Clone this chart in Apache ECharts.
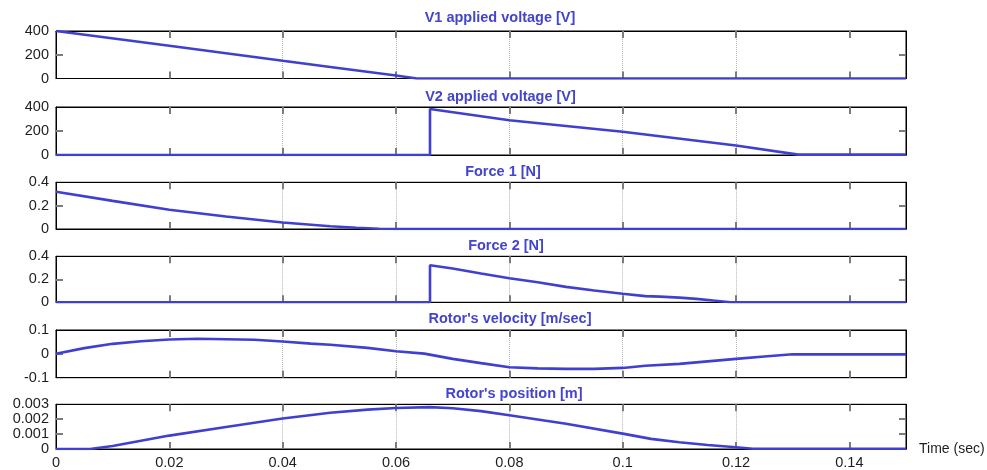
<!DOCTYPE html>
<html><head><meta charset="utf-8">
<script src="https://cdn.jsdelivr.net/npm/echarts@6/dist/echarts.min.js"></script>
<style>html,body{margin:0;padding:0;background:#fff}#c{width:987px;height:470px}</style>
</head><body><div id="c"></div>
<script>
// ---- data ----
const titles = ["V1 applied voltage [V]", "V2 applied voltage [V]", "Force 1 [N]", "Force 2 [N]", "Rotor's velocity [m/sec]", "Rotor's position [m]"];
const xTicks = [0, 0.02, 0.04, 0.06, 0.08, 0.1, 0.12, 0.14];
const xName = "Time (sec)";
const yTicksV1 = [0, 200, 400];
const yTicksV2 = [0, 200, 400];
const yTicksF1 = [0, 0.2, 0.4];
const yTicksF2 = [0, 0.2, 0.4];
const yTicksVel = [-0.1, 0, 0.1];
const yTicksPos = [0, 0.001, 0.002, 0.003];

const v1 = [[0,400],[0.02,276],[0.04,149],[0.0484,97],[0.06,25],[0.0637,0],[0.15,0]];
const v2 = [[0,0],[0.066,0],[0.066,383],[0.08,290],[0.1,194],[0.12,79],[0.131,3],[0.15,3]];
const force1 = [[0,0.319],[0.01,0.241],[0.02,0.165],[0.03,0.107],[0.04,0.055],[0.0484,0.023],[0.05,0.019],[0.053,0.011],[0.057,0.002],[0.06,0],[0.15,0]];
const force2 = [[0,0],[0.066,0],[0.066,0.322],[0.07,0.294],[0.075,0.25],[0.08,0.209],[0.085,0.174],[0.09,0.134],[0.095,0.103],[0.1,0.074],[0.104,0.054],[0.1066,0.049],[0.11,0.041],[0.113,0.03],[0.116,0.015],[0.119,0.001],[0.15,0]];
const velocity = [[0,0],[0.005,0.024],[0.01,0.042],[0.015,0.053],[0.02,0.06],[0.025,0.063],[0.03,0.0615],[0.035,0.059],[0.04,0.052],[0.045,0.043],[0.0484,0.038],[0.055,0.025],[0.06,0.011],[0.065,0.001],[0.07,-0.021],[0.075,-0.039],[0.08,-0.056],[0.085,-0.061],[0.09,-0.063],[0.095,-0.063],[0.1,-0.059],[0.104,-0.05],[0.11,-0.042],[0.12,-0.021],[0.125,-0.011],[0.13,-0.002],[0.132,-0.002],[0.15,-0.002]];
const position = [[0,0],[0.006,0],[0.01,0.0002],[0.02,0.0009],[0.03,0.00148],[0.04,0.00205],[0.0484,0.00243],[0.055,0.00264],[0.06,0.00275],[0.066,0.00281],[0.07,0.00273],[0.075,0.00254],[0.08,0.00226],[0.09,0.00169],[0.1,0.00103],[0.105,0.00068],[0.11,0.00045],[0.115,0.00027],[0.12,0.00012],[0.123,0.00002],[0.15,0.00002]];

const seriesData = [v1, v2, force1, force2, velocity, position];
const yTicks = [yTicksV1, yTicksV2, yTicksF1, yTicksF2, yTicksVel, yTicksPos];

// ---- layout / style ----
const FONT = "'Liberation Sans', Arial, sans-serif";
const LINE = '#4040d0';
const TITLE_C = '#4444cc';
const gridTops = [31, 107, 182.3, 256.3, 330, 404.3];
const gridHeights = [47.5, 48, 46.7, 46, 47.7, 46.7];
const titleCx = [500, 500.5, 503, 506, 510, 514];
const titleCy = [18.3, 96.7, 171.7, 246, 319.3, 394];
const xMax = 0.15;

const grids = [], xAxes = [], xAxesTop = [], yAxes = [], yAxesRight = [], series = [], graphics = [];
const tickStyle = {color: '#7c7c7c', width: 2};
const splitStyle = {type: 'dotted', color: '#b4b4b4', width: 1};

for (let i = 0; i < 6; i++) {
  const yt = yTicks[i];
  const yMin = yt[0], yMax = yt[yt.length - 1];
  const yInt = +(yt[1] - yt[0]).toFixed(6);
  grids.push({left: 56, width: 850, top: gridTops[i], height: gridHeights[i], show: true, borderColor: '#000', borderWidth: 1});
  xAxes.push({
    type: 'value', gridIndex: i, min: 0, max: xMax, interval: 0.02, position: 'bottom',
    axisLine: {show: true, onZero: false, lineStyle: {color: '#000', width: 1}},
    axisTick: {show: true, inside: true, length: 7, lineStyle: tickStyle, customValues: xTicks.slice(1)},
    axisLabel: {show: i === 5, customValues: xTicks, fontSize: 14.5, color: '#1e1e1e', margin: 6, fontFamily: FONT},
    splitLine: {show: true, showMinLine: false, showMaxLine: false, lineStyle: splitStyle},
    name: i === 5 ? xName : '', nameLocation: 'end', nameGap: 13,
    nameTextStyle: {fontSize: 14, color: '#1e1e1e', fontFamily: FONT}
  });
  xAxesTop.push({
    type: 'value', gridIndex: i, min: 0, max: xMax, interval: 0.02, position: 'top',
    axisLine: {show: true, onZero: false, lineStyle: {color: '#000', width: 1}},
    axisTick: {show: true, inside: true, length: 7, lineStyle: tickStyle, customValues: xTicks.slice(1)},
    axisLabel: {show: false}, splitLine: {show: false}
  });
  yAxes.push({
    type: 'value', gridIndex: i, min: yMin, max: yMax, interval: yInt, position: 'left',
    axisLine: {show: true, onZero: false, lineStyle: {color: '#000', width: 1}},
    axisTick: {show: true, inside: true, length: 7, lineStyle: tickStyle, customValues: yt.slice(1, -1)},
    axisLabel: {show: true, customValues: yt, fontSize: 14.5, color: '#1e1e1e', margin: 7, fontFamily: FONT},
    splitLine: {show: true, showMinLine: false, showMaxLine: false, lineStyle: splitStyle}
  });
  yAxesRight.push({
    type: 'value', gridIndex: i, min: yMin, max: yMax, interval: yInt, position: 'right',
    axisLine: {show: true, onZero: false, lineStyle: {color: '#000', width: 1}},
    axisTick: {show: true, inside: true, length: 7, lineStyle: tickStyle, customValues: yt.slice(1, -1)},
    axisLabel: {show: false}, splitLine: {show: false}
  });
  series.push({
    type: 'line', xAxisIndex: i, yAxisIndex: i, data: seriesData[i],
    showSymbol: false, symbol: 'none', silent: true,
    lineStyle: {color: LINE, width: 2.6}, z: 5
  });
  graphics.push({
    type: 'text', x: titleCx[i], y: titleCy[i], silent: true,
    style: {text: titles[i], font: "bold 14.5px " + FONT, fill: TITLE_C,
      align: 'center', verticalAlign: 'middle', textAlign: 'center', textVerticalAlign: 'middle'}
  });
}

const chart = echarts.init(document.getElementById('c'), null, {renderer: 'canvas'});
chart.setOption({
  animation: false,
  backgroundColor: '#fff',
  grid: grids,
  xAxis: xAxes.concat(xAxesTop),
  yAxis: yAxes.concat(yAxesRight),
  series: series,
  graphic: graphics
});
</script></body></html>
